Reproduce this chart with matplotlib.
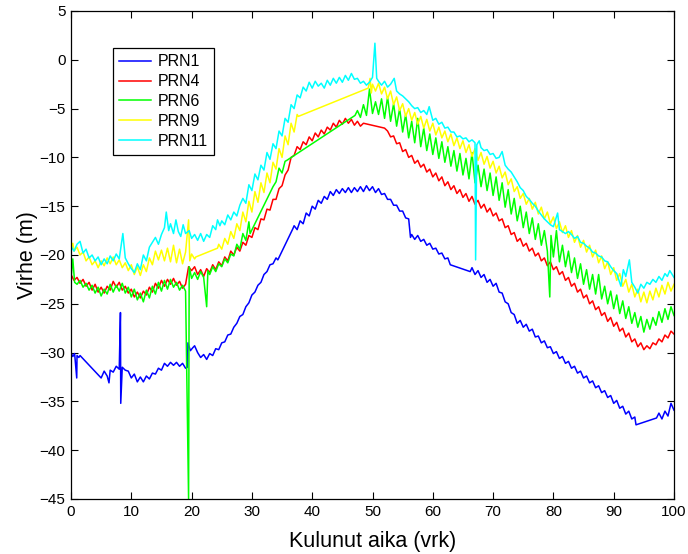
import matplotlib
matplotlib.use("Agg")
import matplotlib.pyplot as plt

plt.rcParams['font.family'] = ['Liberation Sans', 'DejaVu Sans']

# ---------------- data ----------------
prn1_x = [0.0, 0.3, 0.6, 0.95, 1.0, 1.3, 1.5,
          5.0, 5.5, 6.0, 6.3, 6.5, 7.0, 7.5, 8.0, 8.2, 8.25, 8.5, 9.0, 9.5, 10.0, 10.5, 11.0, 11.5, 12.0,
          12.5, 13.0, 13.5, 14.0, 14.5, 15.0, 15.5, 16.0, 16.5, 17.0, 17.5, 18.0, 18.5, 19.0, 19.3, 19.4,
          19.8, 20.2, 20.5, 21.0, 21.5, 22.0, 22.5, 23.0, 23.5, 24.0, 24.5, 25.0, 25.5, 26.0, 26.5, 27.0,
          27.5, 28.0, 28.5, 29.0, 29.5, 30.0, 30.5, 31.0, 31.5, 32.0, 32.5, 33.0, 33.5, 34.0, 34.3,
          36.8, 37.0, 37.5, 38.0, 38.5, 39.0, 39.5, 40.0, 40.5, 41.0, 41.5, 42.0, 42.5, 43.0, 43.5, 44.0,
          44.5, 45.0, 45.5, 46.0, 46.5, 47.0, 47.5, 48.0, 48.5, 49.0, 49.5, 50.0, 50.5, 51.0, 51.5, 52.0,
          52.5, 53.0, 53.5, 54.0, 54.5, 55.0, 55.5, 56.0, 56.3, 56.5, 57.0, 57.5, 58.0, 58.5, 59.0, 59.5,
          60.0, 60.5, 61.0, 61.5, 62.0, 62.5, 62.9,
          66.2, 66.5, 67.0, 67.5, 68.0, 68.5, 69.0, 69.5, 70.0, 70.5, 71.0, 71.5, 72.0, 72.5, 73.0, 73.5,
          74.0, 74.5, 75.0, 75.5, 76.0, 76.5, 77.0, 77.5, 78.0, 78.5, 79.0, 79.5, 80.0, 80.5, 81.0, 81.5,
          82.0, 82.5, 83.0, 83.5, 84.0, 84.5, 85.0, 85.5, 86.0, 86.5, 87.0, 87.5, 88.0, 88.5, 89.0, 89.5,
          90.0, 90.5, 91.0, 91.5, 92.0, 92.5, 93.0, 93.5, 93.7,
          97.1, 97.5, 98.0, 98.5, 99.0, 99.5, 100.0]
prn1_y = [-30.0, -30.4, -30.1, -32.6, -30.3, -30.5, -30.3,
          -32.6, -31.9, -32.4, -33.1, -31.8, -32.0, -31.4, -31.7, -25.9, -35.2, -31.5, -31.8, -31.9, -32.6, -32.2, -33.0, -32.5, -33.0,
          -32.4, -32.7, -32.1, -32.2, -31.6, -31.8, -31.1, -31.4, -31.0, -31.3, -31.0, -31.4, -31.1, -31.6, -31.5, -29.0,
          -29.8, -29.5, -29.3, -30.0, -30.5, -30.2, -30.7, -30.1, -30.3, -29.6, -29.7, -29.0, -28.9, -28.2, -28.1, -27.4,
          -27.0, -26.3, -26.1, -25.3, -24.9, -24.1, -23.8, -23.1, -22.8, -22.0, -21.7, -21.0, -20.9, -20.3, -20.5,
          -17.3, -17.0, -17.4, -16.5, -16.8, -15.7, -16.0, -15.0, -15.3, -14.4, -14.7, -14.0, -14.3, -13.5, -13.9, -13.3,
          -13.7, -13.2, -13.6, -13.1, -13.6, -13.1, -13.5, -13.0, -13.5, -12.9, -13.4, -13.0, -13.6, -13.2, -13.8, -13.7,
          -14.3, -14.3, -14.9, -14.9, -15.5, -15.5, -16.2, -16.3, -18.2, -17.9, -18.4, -18.0, -18.6, -18.4, -19.0, -18.8,
          -19.4, -19.3, -19.9, -19.8, -20.4, -20.3, -21.0,
          -21.7, -21.3, -22.0, -21.6, -22.3, -22.0, -22.8, -22.5, -23.2, -22.9, -23.8, -23.9, -24.8, -25.0, -25.9, -26.1,
          -27.0, -26.7, -27.4, -27.1, -27.8, -27.6, -28.4, -28.3, -29.0, -28.8, -29.5, -29.4, -30.1, -29.9, -30.6, -30.4,
          -31.1, -30.9, -31.6, -31.4, -32.1, -31.9, -32.6, -32.4, -33.1, -32.9, -33.6, -33.4, -34.1, -33.9, -34.6, -34.4,
          -35.2, -34.9, -35.7, -35.5, -36.3, -36.0, -36.8, -36.6, -37.4,
          -36.7, -36.2, -36.8, -36.0, -36.5, -35.2, -35.9]

prn4_x = [0.0, 0.5, 1.0, 1.5, 2.0, 2.5, 3.0, 3.5, 4.0, 4.5, 5.0, 5.5, 6.0, 6.5, 7.0, 7.5, 8.0, 8.5, 9.0, 9.5,
          10.0, 10.5, 11.0, 11.5, 12.0, 12.5, 13.0, 13.5, 14.0, 14.5, 15.0, 15.5, 16.0, 16.5, 17.0, 17.5,
          18.0, 18.5, 19.0, 19.5, 20.0, 20.5, 21.0, 21.5, 22.0, 22.5, 23.0, 23.5, 24.0, 24.5, 25.0, 25.5,
          26.0, 26.5, 27.0, 27.5, 28.0, 28.5, 29.0, 29.5, 30.0, 30.5, 31.0, 31.5, 32.0, 32.5, 33.0, 33.5,
          34.0, 34.5, 35.0, 35.5, 36.0, 36.5, 37.0, 37.5, 38.0, 38.5, 39.0, 39.5, 40.0, 40.5, 41.0, 41.5,
          42.0, 42.5, 43.0, 43.5, 44.0, 44.5, 45.0, 45.5, 46.0, 46.5, 47.0, 47.5, 48.0, 48.5,
          52.0, 52.5, 53.0, 53.5, 54.0, 54.5, 55.0, 55.5, 56.0, 56.5, 57.0, 57.5, 58.0, 58.5, 59.0, 59.5,
          60.0, 60.5, 61.0, 61.5, 62.0, 62.5, 63.0, 63.5, 64.0, 64.5, 65.0, 65.5, 66.0, 66.5, 67.0, 67.5,
          68.0, 68.5, 69.0, 69.5, 70.0, 70.5, 71.0, 71.5, 72.0, 72.5, 73.0, 73.5, 74.0, 74.5, 75.0, 75.5,
          76.0, 76.5, 77.0, 77.5, 78.0, 78.5, 79.0, 79.5, 80.0, 80.5, 81.0, 81.5, 82.0, 82.5, 83.0, 83.5,
          84.0, 84.5, 85.0, 85.5, 86.0, 86.5, 87.0, 87.5, 88.0, 88.5, 89.0, 89.5, 90.0, 90.5, 91.0, 91.5,
          92.0, 92.5, 93.0, 93.5, 94.0, 94.5, 95.0, 95.5, 96.0, 96.5, 97.0, 97.5, 98.0, 98.5, 99.0, 99.5, 100.0]
prn4_y = [-22.0, -22.6, -22.3, -22.9, -22.5, -23.2, -22.8, -23.6, -23.0, -23.8, -23.3, -23.9, -23.2, -23.6, -22.7, -23.3, -22.8, -23.6, -23.2, -23.9,
          -23.5, -24.3, -23.8, -24.4, -23.7, -24.1, -23.3, -23.8, -22.9, -23.4, -22.6, -23.2, -22.5, -23.0, -22.4, -23.1,
          -22.7, -23.4, -23.0, -21.2, -21.6, -21.2, -22.0, -21.5, -22.2, -21.4, -21.8, -21.0, -21.5, -20.7, -21.1, -20.2,
          -20.6, -19.6, -20.0, -19.2, -19.6, -18.7, -19.0, -18.0, -18.2, -17.2, -17.4, -16.3, -16.4, -15.3, -15.4, -14.3,
          -14.3, -13.2, -12.9, -11.8, -11.3, -10.0, -9.8, -8.9, -9.2, -8.4, -8.7, -7.9, -8.3, -7.5, -7.9, -7.2,
          -7.6, -6.9, -7.2, -6.5, -6.9, -6.2, -6.6, -6.0, -6.5, -6.1, -6.7, -6.3, -6.8, -6.5,
          -7.0, -7.3, -7.9, -7.8, -8.6, -8.5, -9.4, -9.2, -10.0, -9.8, -10.6, -10.3, -11.0, -10.7, -11.5, -11.2,
          -12.0, -11.6, -12.4, -12.0, -12.9, -12.5, -13.3, -12.9, -13.7, -13.3, -14.1, -13.7, -14.5, -14.0, -14.8, -14.4,
          -15.2, -14.8, -15.6, -15.2, -16.0, -15.7, -16.5, -16.3, -17.2, -17.0, -17.9, -17.7, -18.6, -18.3, -19.1, -18.8,
          -19.6, -19.3, -20.1, -19.8, -20.6, -20.3, -21.1, -20.7, -21.5, -21.2, -22.0, -21.7, -22.6, -22.3, -23.2, -22.9,
          -23.8, -23.5, -24.4, -24.1, -25.0, -24.7, -25.6, -25.3, -26.2, -25.9, -26.8, -26.4, -27.3, -26.9, -27.8, -27.5,
          -28.4, -28.0, -28.9, -28.6, -29.4, -29.0, -29.7, -29.3, -29.6, -29.0, -29.2, -28.6, -28.9, -28.2, -28.5, -27.8, -28.1]

prn6_x = [0.0, 0.3, 0.6, 1.0, 1.5, 2.0, 2.5, 3.0, 3.5, 4.0, 4.5, 5.0, 5.5, 6.0, 6.5, 7.0, 7.5, 8.0, 8.5, 9.0,
          9.5, 10.0, 10.5, 11.0, 11.5, 12.0, 12.5, 13.0, 13.5, 14.0, 14.5, 15.0, 15.5, 16.0, 16.5, 17.0,
          17.5, 18.0, 18.5, 19.0, 19.5, 19.6, 20.0, 20.5, 21.0, 21.5, 22.0, 22.5, 22.7, 23.0, 23.5, 24.0,
          24.5, 25.0, 25.5, 26.0, 26.5, 27.0, 27.5, 28.0, 28.5, 29.0, 29.5, 29.7,
          33.5, 34.0, 34.5, 35.0, 35.5, 35.8,
          47.1, 47.5, 48.0, 48.5, 49.0, 49.5, 50.0, 50.5, 51.0, 51.5, 52.0, 52.5, 53.0, 53.5, 54.0, 54.5,
          55.0, 55.5, 56.0, 56.5, 57.0, 57.5, 58.0, 58.5, 59.0, 59.5, 60.0, 60.5, 61.0, 61.5, 62.0, 62.5,
          63.0, 63.5, 64.0, 64.5, 65.0, 65.5, 66.0, 66.5, 67.0, 67.5, 68.0, 68.5, 69.0, 69.5, 70.0, 70.5,
          71.0, 71.5, 72.0, 72.5, 73.0, 73.5, 74.0, 74.5, 75.0, 75.5, 76.0, 76.5, 77.0, 77.5, 78.0, 78.5,
          79.0, 79.4, 79.6, 80.0, 80.5, 81.0, 81.5, 82.0, 82.5, 83.0, 83.5, 84.0, 84.5, 85.0, 85.5, 86.0,
          86.5, 87.0, 87.5, 88.0, 88.5, 89.0, 89.5, 90.0, 90.5, 91.0, 91.5, 92.0, 92.5, 93.0, 93.5, 94.0,
          94.5, 95.0, 95.5, 96.0, 96.5, 97.0, 97.5, 98.0, 98.5, 99.0, 99.5, 100.0]
prn6_y = [-22.4, -20.4, -22.8, -23.0, -22.6, -23.3, -22.9, -23.6, -23.1, -23.9, -23.3, -24.2, -23.5, -24.0, -23.0, -23.8, -23.1, -23.7, -22.9, -23.9,
          -23.3, -24.3, -23.5, -24.6, -23.9, -24.8, -23.6, -24.4, -23.2, -24.0, -22.8, -23.7, -22.6, -23.5, -22.5, -23.3,
          -22.8, -23.6, -23.1, -23.7, -45.0, -21.2, -22.4, -21.8, -22.5, -21.7, -22.3, -25.3, -21.6, -22.0, -21.2, -21.7,
          -20.9, -21.2, -20.4, -20.8, -19.9, -20.1, -18.9, -19.4, -17.8, -18.5, -16.6, -17.8,
          -13.0, -12.5, -11.1, -11.6, -10.4, -10.3,
          -5.7, -5.2, -5.9, -4.6, -5.7, -3.0, -5.5, -4.3, -5.6, -4.0, -6.0, -3.8, -6.3, -4.5, -6.8, -5.0,
          -7.4, -5.6, -8.0, -6.3, -8.5, -6.0, -8.9, -7.0, -9.3, -7.6, -9.7, -8.0, -10.1, -8.4, -10.5, -8.9,
          -10.9, -9.3, -11.4, -9.6, -11.8, -10.1, -12.2, -9.5, -12.6, -10.8, -13.0, -11.2, -13.4, -11.6, -13.9, -12.0,
          -14.4, -12.6, -15.1, -13.3, -15.8, -14.2, -16.5, -15.0, -17.2, -15.6, -17.8, -16.2, -18.4, -16.8, -19.0, -17.5,
          -19.6, -24.3, -18.0, -20.2, -17.5, -20.7, -19.0, -21.2, -19.6, -21.8, -20.3, -22.4, -20.9, -23.0, -21.5, -23.5,
          -22.0, -24.0, -22.0, -24.5, -23.2, -25.0, -23.7, -25.5, -24.1, -26.0, -24.7, -26.5, -25.3, -27.0, -25.9, -27.4,
          -26.3, -27.9, -26.6, -27.6, -26.4, -27.2, -25.8, -26.9, -25.5, -26.6, -25.3, -26.2]

prn9_x = [0.0, 0.3, 0.5, 1.0, 1.5, 2.0, 2.5, 3.0, 3.5, 4.0, 4.5, 5.0, 5.5, 6.0, 6.5, 7.0, 7.5, 8.0, 8.5, 9.0,
          9.5, 10.0, 10.5, 11.0, 11.5, 12.0, 12.5, 13.0, 13.5, 14.0, 14.5, 15.0, 15.5, 16.0, 16.5, 17.0,
          17.5, 18.0, 18.5, 19.0, 19.5, 19.7, 20.0, 20.5, 20.7,
          24.3, 24.5, 25.0, 25.5, 26.0, 26.5, 27.0, 27.5, 28.0, 28.5, 29.0, 29.5, 30.0, 30.5, 31.0, 31.5,
          32.0, 32.5, 33.0, 33.5, 34.0, 34.5, 35.0, 35.5, 36.0, 36.5, 37.0, 37.5, 37.7,
          49.3, 49.6, 49.8, 50.0, 50.5, 51.0, 51.5, 52.0, 52.5, 53.0, 53.5, 54.0, 54.5, 55.0, 55.5, 56.0,
          56.5, 57.0, 57.5, 58.0, 58.5, 59.0, 59.5, 60.0, 60.5, 61.0, 61.5, 62.0, 62.5, 63.0, 63.5, 64.0,
          64.5, 65.0, 65.5, 66.0, 66.5, 67.0, 67.5, 68.0, 68.5, 69.0, 69.5, 70.0, 70.5, 71.0, 71.5, 72.0,
          72.5, 73.0, 73.5, 74.0, 74.5, 75.0, 75.5, 76.0, 76.5, 77.0, 77.5, 78.0, 78.5, 79.0, 79.5, 80.0,
          80.5, 81.0, 81.5, 82.0, 82.5, 83.0, 83.5, 84.0, 84.5, 85.0, 85.5, 86.0, 86.5, 87.0, 87.5, 88.0,
          88.5, 89.0, 89.5, 90.0, 90.5, 91.0, 91.5, 92.0, 92.5, 93.0, 93.5, 94.0, 94.5, 95.0, 95.5, 96.0,
          96.5, 97.0, 97.5, 98.0, 98.5, 99.0, 99.5, 100.0]
prn9_y = [-19.3, -18.8, -19.6, -19.2, -20.0, -19.7, -20.6, -20.2, -21.0, -20.6, -21.3, -20.6, -21.1, -20.3, -20.9, -20.2, -21.0, -20.5, -21.3, -20.8,
          -21.6, -21.0, -22.0, -21.2, -22.1, -21.0, -21.7, -20.3, -21.0, -19.6, -20.5, -19.5, -20.6, -19.3, -20.7, -19.0,
          -20.8, -19.4, -20.9, -19.7, -16.4, -20.6, -19.9, -20.4, -20.2,
          -19.3, -18.9, -19.4, -18.3, -18.9, -17.6, -18.3, -16.8, -17.5, -15.6, -16.6, -14.5, -15.6, -13.5, -14.6, -12.6,
          -13.6, -11.6, -12.6, -10.5, -11.2, -9.1, -10.0, -7.8, -8.7, -6.5, -7.4, -5.6, -5.8,
          -2.9, -1.9, -3.4, -2.5, -3.2, -2.4, -3.5, -2.8, -4.0, -3.2, -4.6, -3.8, -5.2, -4.5, -5.8, -5.0,
          -6.2, -5.4, -6.6, -5.8, -7.0, -6.1, -7.3, -6.5, -7.7, -6.9, -8.0, -7.3, -8.4, -7.6, -8.8, -8.0,
          -9.1, -8.3, -9.5, -8.7, -9.9, -9.1, -10.3, -9.5, -10.7, -9.9, -11.1, -10.4, -11.6, -10.9, -12.1, -11.5,
          -12.8, -12.2, -13.5, -13.0, -14.2, -13.7, -14.8, -14.2, -15.3, -14.6, -15.8, -15.1, -16.3, -15.6, -16.8, -16.1,
          -17.3, -16.6, -17.7, -17.0, -18.2, -17.5, -18.7, -18.0, -19.2, -18.5, -19.7, -19.0, -20.2, -19.5, -20.8, -20.1,
          -21.4, -20.7, -22.0, -21.3, -22.6, -21.9, -23.2, -22.5, -23.8, -23.0, -24.3, -23.5, -24.8, -23.8, -24.9, -23.7,
          -24.6, -23.4, -24.3, -23.1, -24.0, -22.8, -23.7, -23.0]

prn11_x = [0.0, 0.5, 1.0, 1.5, 2.0, 2.5, 3.0, 3.5, 4.0, 4.5, 5.0, 5.5, 6.0, 6.5, 7.0, 7.5, 8.0, 8.6, 9.0, 9.5,
           10.0, 10.5, 11.0, 11.5, 12.0, 12.5, 13.0, 13.5, 14.0, 14.5, 15.0, 15.5, 15.8, 16.2, 16.5, 17.0,
           17.4, 17.8, 18.2, 18.6, 19.0, 19.6, 20.0, 20.5, 21.0, 21.5, 22.0, 22.5, 23.0, 23.5, 24.0, 24.3,
           24.7, 25.0, 25.5, 26.0, 26.5, 27.0, 27.5, 28.0, 28.5, 29.0, 29.5, 30.0, 30.5, 31.0, 31.5, 32.0,
           32.5, 33.0, 33.5, 34.0, 34.5, 35.0, 35.5, 36.0, 36.5, 37.0, 37.5, 38.0, 38.5, 39.0, 39.5, 40.0,
           40.5, 41.0, 41.5, 42.0, 42.5, 43.0, 43.5, 44.0, 44.5, 45.0, 45.5, 46.0, 46.5, 47.0, 47.5, 48.0,
           48.5, 49.0, 49.5, 50.0, 50.4, 50.7, 51.0, 51.5, 52.0, 52.5, 53.0, 53.6, 54.0, 54.5, 55.0, 55.5,
           56.0, 56.5, 57.0, 57.5, 58.0, 58.5, 59.0, 59.4, 60.0, 60.5, 61.0, 61.5, 62.0, 62.5, 63.0, 63.5,
           64.0, 64.5, 65.0, 65.5, 66.0, 66.5, 67.0, 67.1, 67.3, 67.7, 68.0, 68.5, 69.0, 69.5, 70.0, 70.5,
           71.0, 71.5, 72.0, 72.5, 73.0, 73.5, 74.0, 74.5, 75.0, 75.5, 76.0, 76.5, 77.0, 77.5, 78.0, 78.5,
           79.0, 79.5, 80.0, 80.7, 81.0, 81.5, 82.0, 82.5, 83.0, 83.5, 84.0, 84.5, 85.0, 85.5, 86.0, 86.5,
           87.0, 87.5, 88.0, 88.5, 89.0, 89.5, 90.0, 90.5, 91.2, 91.6, 92.0, 92.6, 93.0, 93.5, 94.0, 94.5,
           95.0, 95.5, 96.0, 96.5, 97.0, 97.5, 98.0, 98.5, 98.9, 99.3, 100.0]
prn11_y = [-19.1, -19.6, -18.9, -18.6, -19.8, -19.4, -20.3, -20.0, -20.6, -20.2, -21.0, -20.4, -20.9, -20.1, -20.6, -19.9, -20.4, -17.8, -20.3, -20.9,
           -21.4, -21.8, -20.9, -21.5, -20.0, -20.6, -19.2, -18.7, -18.2, -18.9, -17.9, -17.2, -15.6, -17.5, -16.8, -17.8,
           -16.4, -17.6, -18.1, -16.9, -17.8, -17.5, -18.3, -17.9, -18.5, -17.8, -18.6, -17.9, -18.2, -17.0, -17.4, -16.4,
           -17.0, -16.5, -16.9, -15.9, -16.4, -15.6, -16.0, -14.9, -14.2, -14.7, -12.8, -13.4, -11.7, -12.3, -10.8, -11.3,
           -9.5, -10.2, -8.6, -9.1, -7.3, -7.8, -6.0, -6.4, -4.6, -5.0, -3.6, -3.9, -2.8, -3.2, -2.3, -2.9,
           -2.2, -2.7, -2.4, -2.9, -2.1, -2.6, -1.9, -2.4, -1.8, -2.3, -1.6, -2.1, -1.4, -2.0, -1.9, -2.4,
           -2.2, -2.6, -2.3, -1.8, 1.7, -1.9, -2.2, -2.6, -2.2, -2.8, -2.5, -1.9, -3.2, -3.5, -3.7, -4.0,
           -4.3, -4.7, -5.0, -4.9, -5.4, -5.2, -5.6, -4.8, -6.2, -6.0, -6.6, -6.4, -7.0, -6.9, -7.4, -7.4,
           -7.9, -7.8, -8.1, -8.0, -8.4, -8.2, -8.5, -20.5, -8.7, -8.3, -9.0, -9.3, -9.2, -9.7, -9.6, -10.1,
           -10.0, -9.4, -10.8, -11.2, -11.5, -12.0, -12.5, -13.1, -13.4, -14.0, -14.3, -14.7, -15.0, -15.5, -15.9, -16.3,
           -16.6, -16.9, -17.1, -15.7, -17.4, -17.6, -17.8, -17.6, -17.9, -18.3, -18.1, -18.7, -18.8, -19.1, -19.3, -19.7,
           -19.8, -20.1, -20.2, -20.6, -20.7, -21.2, -21.6, -21.9, -23.2, -21.5, -22.2, -20.5, -22.8, -23.3, -23.9, -23.0,
           -23.4, -22.8, -23.0, -22.5, -22.8, -22.2, -22.6, -21.9, -22.2, -21.6, -22.3]

series_labels = ['PRN1', 'PRN4', 'PRN6', 'PRN9', 'PRN11']
series_colors = ['#0000ff', '#ff0000', '#00ff00', '#ffff00', '#00ffff']
x_label = 'Kulunut aika (vrk)'
y_label = 'Virhe (m)'

# ---------------- figure ----------------
fig = plt.figure(figsize=(6.88, 5.54), dpi=100)
ax = fig.add_axes([71/688, 1 - 499/554, (674 - 71)/688, (499 - 11)/554])

xs = [prn1_x, prn4_x, prn6_x, prn9_x, prn11_x]
ys = [prn1_y, prn4_y, prn6_y, prn9_y, prn11_y]
for x, y, lab, col in zip(xs, ys, series_labels, series_colors):
    ax.plot(x, y, color=col, lw=1.1, label=lab)

ax.set_xlim(0, 100)
ax.set_ylim(-45, 5)
ax.set_xticks(range(0, 101, 10))
ax.set_yticks(range(-45, 6, 5))
ax.tick_params(direction='in', top=True, right=True, length=5, width=0.8,
               labelsize=11, pad=4)
for s in ax.spines.values():
    s.set_linewidth(0.9)
ax.set_xlabel(x_label, fontsize=15.5, labelpad=9)
ax.set_ylabel(y_label, fontsize=15.5, labelpad=1)

leg = ax.legend(loc='upper left', bbox_to_anchor=((113 - 71)/603, (499 - 48)/488),
                borderaxespad=0, fancybox=False, edgecolor='black', framealpha=1,
                fontsize=11.5, handlelength=2.0, labelspacing=0.3, borderpad=0.4,
                handletextpad=0.4)
leg.get_frame().set_linewidth(0.9)
for ln in leg.get_lines():
    ln.set_linewidth(1.1)

fig.savefig('out.png', dpi=100)
